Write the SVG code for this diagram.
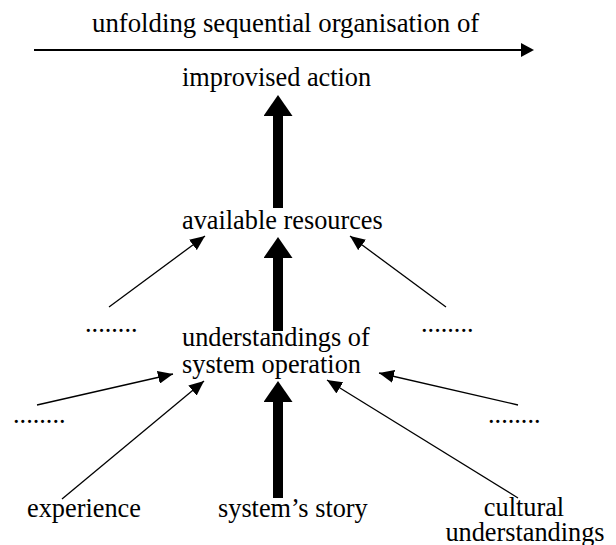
<svg xmlns="http://www.w3.org/2000/svg" width="616" height="545" viewBox="0 0 616 545">
  <style>
    text { font-family: "Liberation Serif", "Times New Roman", serif; font-size: 26.3px; fill: #000; }
    .mid { text-anchor: middle; }
    .thin { stroke: #000; stroke-width: 1.3; fill: none; marker-end: url(#headThin); }
    .thick { stroke: #000; stroke-width: 10; fill: none; marker-end: url(#headThick); }
    .time { stroke: #000; stroke-width: 2; fill: none; marker-end: url(#headTime); }
  </style>
  <defs>
    <marker id="headThin" markerUnits="userSpaceOnUse" markerWidth="15" markerHeight="13" refX="15" refY="6.5" orient="auto">
      <path d="M0,0 L15,6.5 L0,13 z" fill="#000"/>
    </marker>
    <marker id="headThick" markerUnits="userSpaceOnUse" markerWidth="21" markerHeight="29" refX="0" refY="14.5" orient="auto">
      <path d="M0,0 L21,14.5 L0,29 z" fill="#000"/>
    </marker>
    <marker id="headTime" markerUnits="userSpaceOnUse" markerWidth="13" markerHeight="14" refX="0" refY="7" orient="auto">
      <path d="M0,0 L13,7 L0,14 z" fill="#000"/>
    </marker>
  </defs>

  <rect width="616" height="545" fill="#fff"/>

  <!-- connectors -->
  <g id="connectors">
    <!-- time axis -->
    <line class="time" x1="34" y1="50" x2="521" y2="50"/>
    <!-- main chain -->
    <line class="thick" x1="278" y1="208" x2="278" y2="116"/>
    <line class="thick" x1="278" y1="331" x2="278" y2="258"/>
    <line class="thick" x1="278" y1="498" x2="278" y2="402"/>
    <!-- into available resources -->
    <line class="thin" x1="109" y1="307" x2="205" y2="236"/>
    <line class="thin" x1="446" y1="307" x2="350" y2="236"/>
    <!-- into understandings of system operation -->
    <line class="thin" x1="37" y1="405" x2="173" y2="374"/>
    <line class="thin" x1="62" y1="499" x2="204" y2="381"/>
    <line class="thin" x1="518" y1="498" x2="327" y2="380"/>
    <line class="thin" x1="518" y1="405" x2="379" y2="373"/>
  </g>

  <g id="timeline-label">
    <text x="92" y="32" style="font-size:26.8px">unfolding sequential organisation of</text>
  </g>
  <g id="improvised-action">
    <text x="182" y="86">improvised action</text>
  </g>
  <g id="available-resources">
    <text x="182" y="229">available resources</text>
  </g>
  <g id="understandings">
    <text x="182" y="346">understandings of</text>
    <text x="182" y="373">system operation</text>
  </g>
  <g id="more-resources-left">
    <text x="85" y="332">........</text>
  </g>
  <g id="more-resources-right">
    <text x="421" y="332">........</text>
  </g>
  <g id="more-sources-left">
    <text x="13" y="423">........</text>
  </g>
  <g id="more-sources-right">
    <text x="488" y="423">........</text>
  </g>
  <g id="experience">
    <text x="27" y="517">experience</text>
  </g>
  <g id="systems-story">
    <text x="218" y="517">system’s story</text>
  </g>
  <g id="cultural-understandings">
    <text class="mid" x="524" y="516">cultural</text>
    <text class="mid" x="525" y="541">understandings</text>
  </g>
</svg>
